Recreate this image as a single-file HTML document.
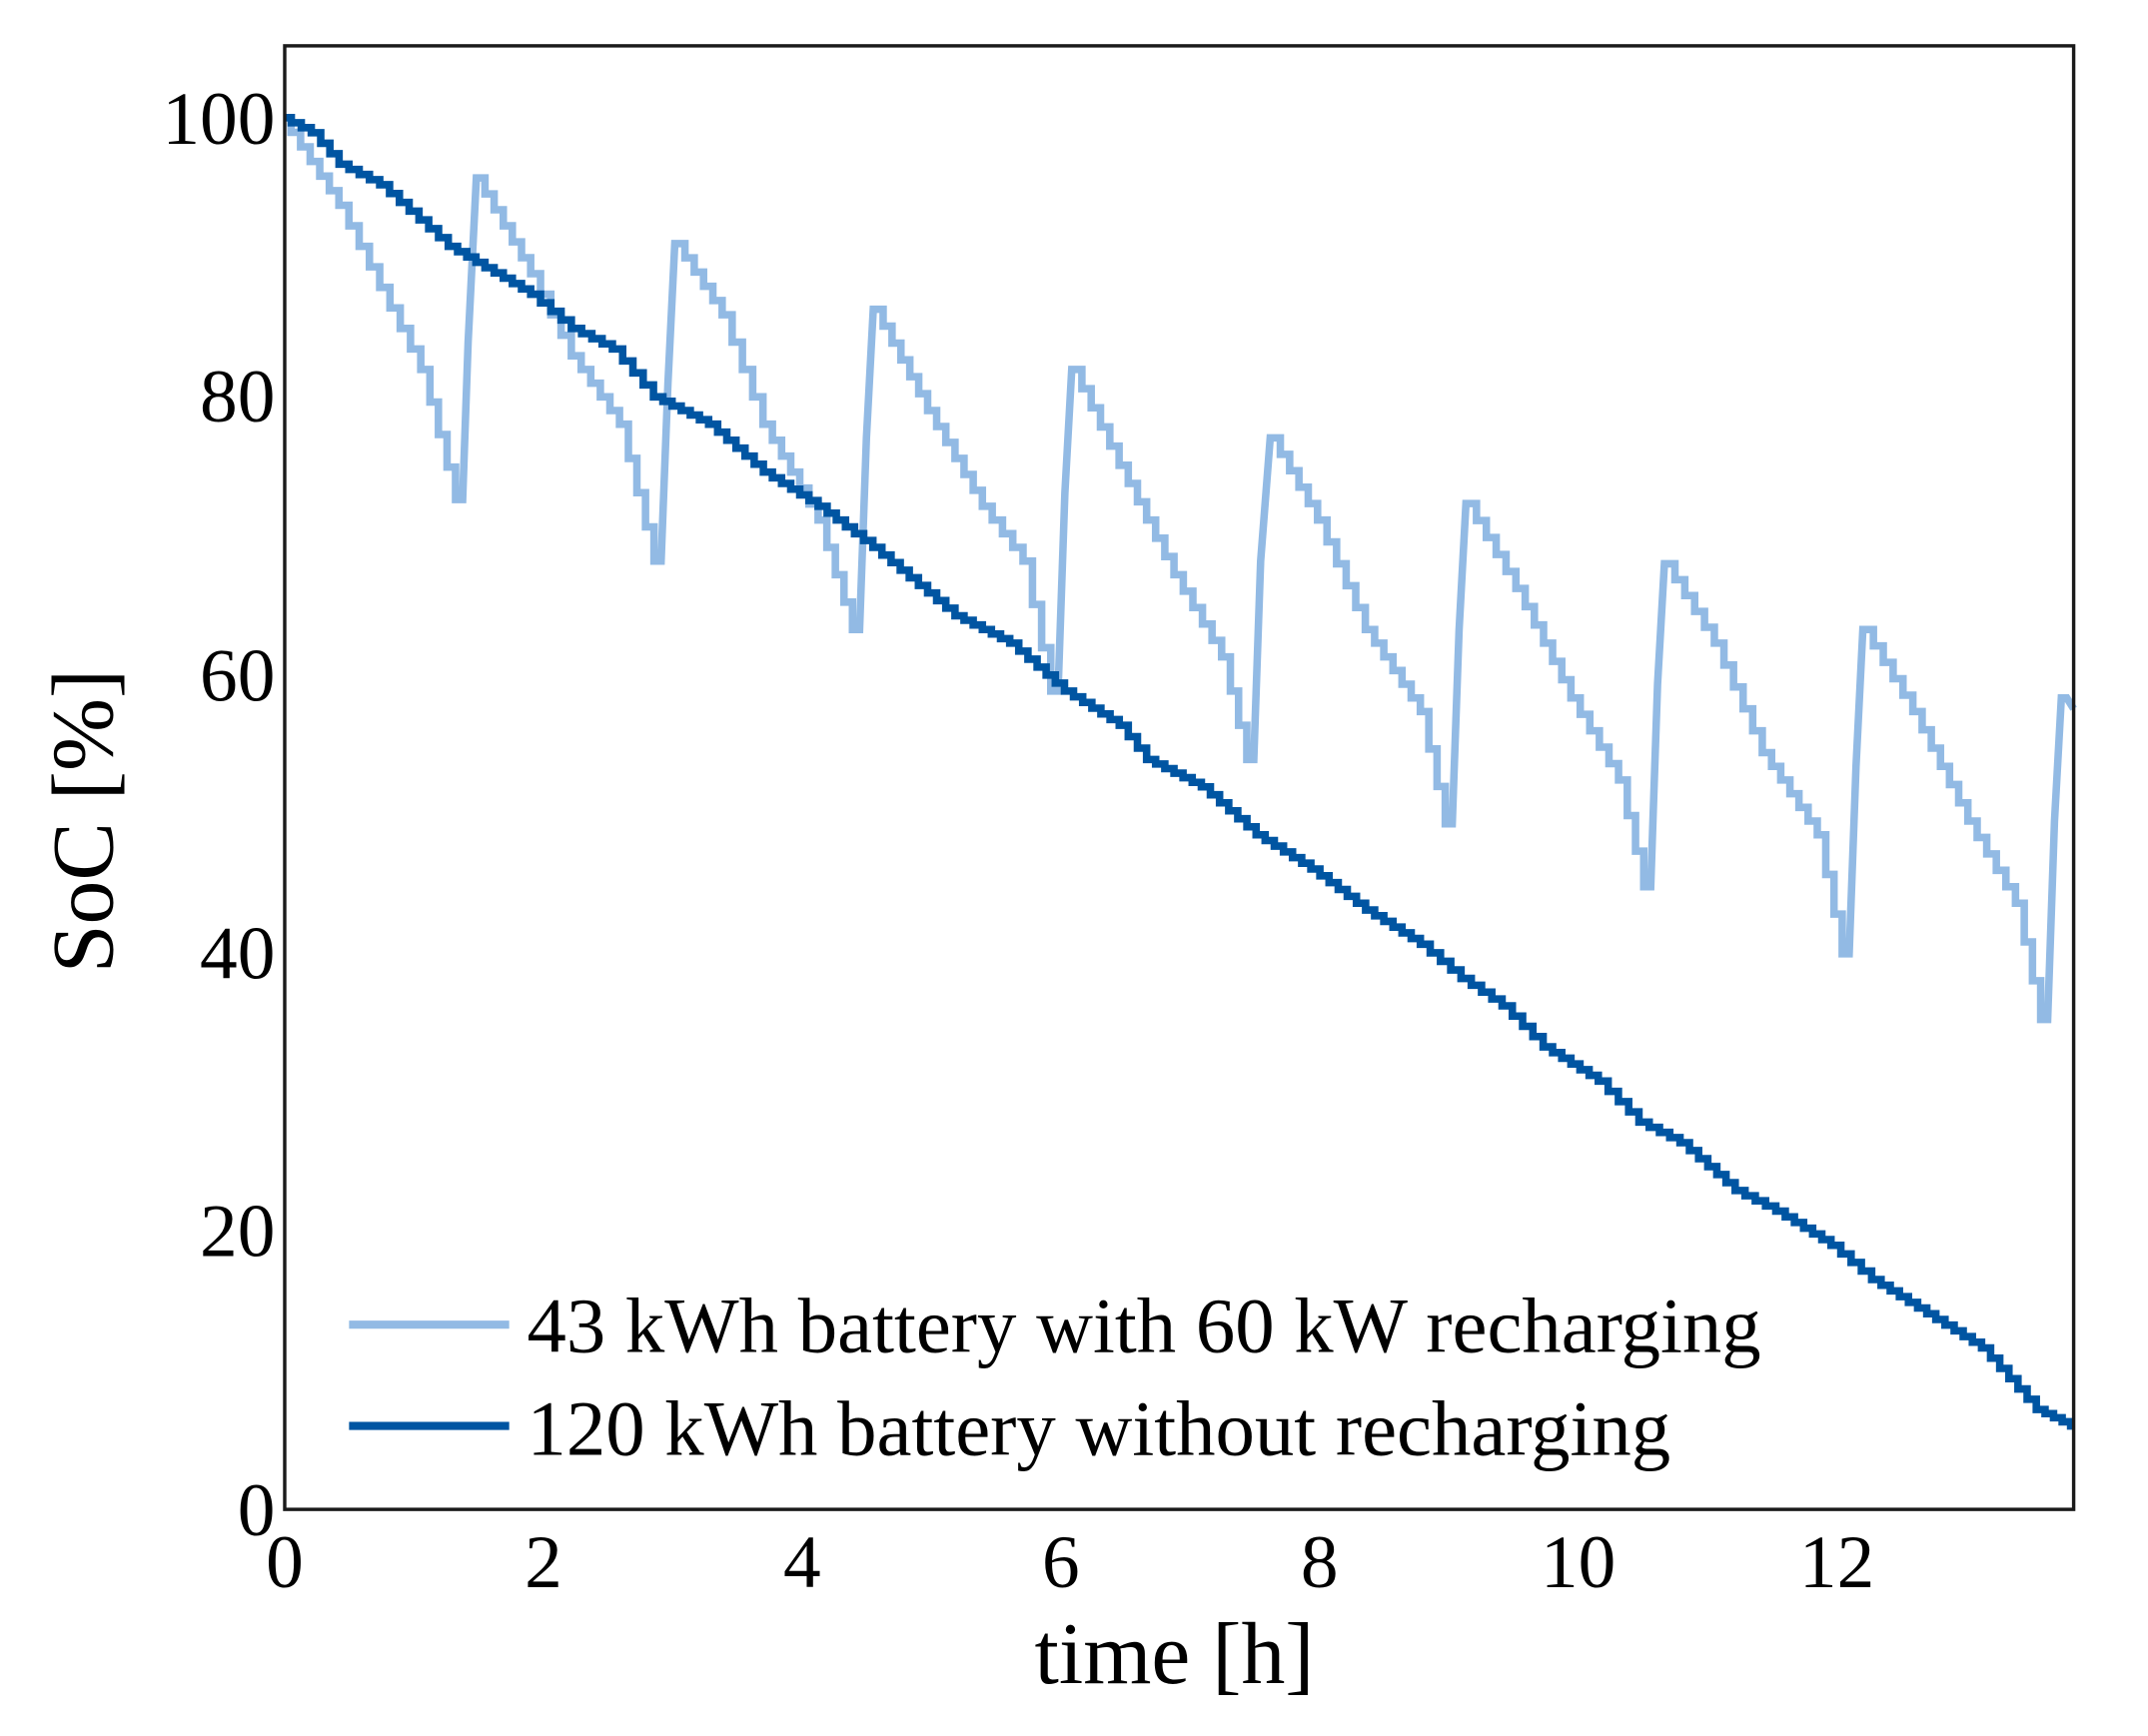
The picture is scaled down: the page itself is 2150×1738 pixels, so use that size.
<!DOCTYPE html>
<html><head><meta charset="utf-8"><style>
html,body{margin:0;padding:0;background:#fff;}
svg{display:block;}
text{font-family:"Liberation Serif",serif;fill:#000;}
</style></head><body>
<svg id="s" width="2150" height="1738" viewBox="0 0 1569.3 1268.6" xmlns="http://www.w3.org/2000/svg">
<rect x="0" y="0" width="1569.3" height="1268.6" fill="#fff"/>
<g id="series"></g>
<rect x="208" y="33.5" width="1307" height="1069.5" fill="none" stroke="#1a1a1a" stroke-width="2.5"/>
<g font-size="55" text-anchor="end">
<text x="201" y="1122">0</text>
<text x="201" y="918">20</text>
<text x="201" y="715">40</text>
<text x="201" y="512">60</text>
<text x="201" y="308">80</text>
<text x="201" y="105">100</text>
</g>
<g font-size="55" text-anchor="middle">
<text x="208" y="1160">0</text>
<text x="397" y="1160">2</text>
<text x="586" y="1160">4</text>
<text x="775" y="1160">6</text>
<text x="964" y="1160">8</text>
<text x="1153" y="1160">10</text>
<text x="1342" y="1160">12</text>
</g>
<text x="858" y="1230" font-size="64" text-anchor="middle">time [h]</text>
<text transform="translate(82,600) rotate(-90)" font-size="64" text-anchor="middle">SoC [%]</text>
<line x1="255" y1="968" x2="372" y2="968" stroke="#92bae4" stroke-width="6"/>
<line x1="255" y1="1042" x2="372" y2="1042" stroke="#0055a2" stroke-width="6"/>
<text x="385" y="988" font-size="57.5">43 kWh battery with 60 kW recharging</text>
<text x="385" y="1063" font-size="57.5">120 kWh battery without recharging</text>
</svg>
<script>
function stair(pts,step){
  var d="M"+pts[0][0]+","+pts[0][1];
  for(var i=1;i<pts.length;i++){
    var a=pts[i-1],b=pts[i];
    var dx=b[0]-a[0];
    var n=Math.max(1,Math.round(Math.abs(dx)/step));
    if(dx<8){d+=" L"+b[0]+","+b[1];continue;}
    for(var k=1;k<=n;k++){
      var x=a[0]+dx*k/n, y=a[1]+(b[1]-a[1])*k/n;
      var xm=x-dx/n*0.35;
      d+=" L"+xm.toFixed(1)+","+(a[1]+(b[1]-a[1])*(k-1)/n).toFixed(1)+" L"+xm.toFixed(1)+","+y.toFixed(1)+" L"+x.toFixed(1)+","+y.toFixed(1);
    }
  }
  return d;
}
var dark=[[208,86],[230,97],[250,120],[280,135],[330,180],[390,215],[420,240],[450,255],[480,290],[520,310],[560,345],[600,370],[640,400],[700,450],[740,470],[780,505],[820,530],[840,555],[880,575],[920,610],[960,635],[1000,665],[1040,690],[1070,715],[1100,735],[1130,765],[1170,790],[1200,820],[1230,835],[1270,870],[1300,885],[1340,910],[1370,935],[1410,960],[1450,985],[1490,1030],[1515,1042]];
var light=[[208,86],[250,150],[280,210],[310,270],[335,365],[338,365],[342,250],[348,130],[350,130],[390,200],[420,260],[455,310],[480,410],[483,410],[488,280],[493,178],[496,178],[530,230],[560,310],[600,380],[625,460],[628,460],[633,320],[638,226],[641,226],[680,300],[720,370],[750,410],[770,505],[773,505],[778,360],[783,270],[786,270],[820,340],[860,420],[895,480],[913,555],[916,555],[921,410],[928,320],[931,320],[965,380],[1000,460],[1040,520],[1058,602],[1061,602],[1066,460],[1071,368],[1074,368],[1110,430],[1150,510],[1185,570],[1203,648],[1206,648],[1211,500],[1216,412],[1219,412],[1255,470],[1290,550],[1330,610],[1348,697],[1351,697],[1356,560],[1361,460],[1364,460],[1400,520],[1440,600],[1475,660],[1493,745],[1496,745],[1501,600],[1506,510],[1510,510],[1515,518]];
var g=document.getElementById("series");
function add(pts,col){var p=document.createElementNS("http://www.w3.org/2000/svg","path");p.setAttribute("d",stair(pts,7));p.setAttribute("fill","none");p.setAttribute("stroke",col);p.setAttribute("stroke-width","5.5");p.setAttribute("stroke-linejoin","miter");g.appendChild(p);}
add(light,"#92bae4");
add(dark,"#0055a2");
</script>
</body></html>
